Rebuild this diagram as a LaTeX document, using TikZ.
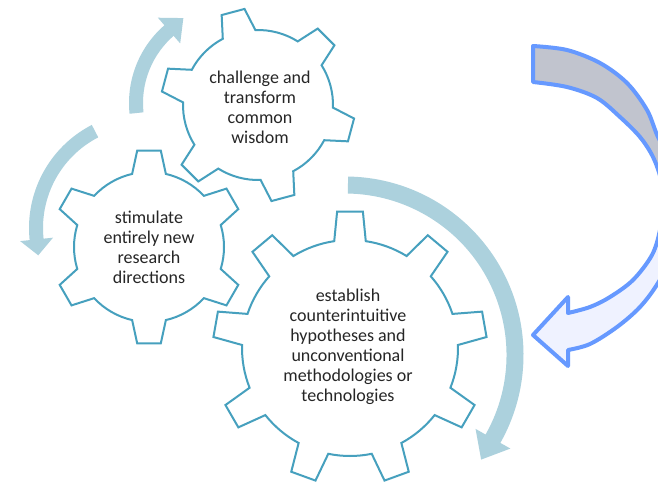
\documentclass[tikz,border=0pt]{standalone}
\usepackage{fontspec}
\setmainfont{Carlito}
\usetikzlibrary{calc}
\definecolor{gearline}{RGB}{70,160,190}
\definecolor{arrowblue}{RGB}{172,209,221}
\definecolor{bigline}{RGB}{102,153,255}
\definecolor{biggray}{RGB}{193,196,206}
\definecolor{biglight}{RGB}{239,242,255}
\definecolor{txt}{RGB}{38,38,38}
\tikzset{
  gearshape/.style={draw=gearline, line width=2pt, fill=white, line join=miter},
  geartext/.style={align=center, text=txt, font=\fontsize{18}{20}\selectfont, inner sep=0pt},
  bandfill/.style={fill=arrowblue},
  bigarrow/.style={draw=bigline, line width=4pt, line join=round},
}
% cx, cy, teeth, offset, Rtip, Rroot, tip half angle, base half angle
\newcommand\drawgear[8]{%
  \begin{scope}[shift={(#1,#2)}]
    \pgfmathsetmacro\gstep{360/#3}
    \pgfmathtruncatemacro\glast{#3-1}
    \draw[gearshape] (#4-#8:#6)
      \foreach \k in {0,...,\glast}{
        -- (#4+\k*\gstep-#7:#5) -- (#4+\k*\gstep+#7:#5) -- (#4+\k*\gstep+#8:#6)
        arc[start angle=#4+\k*\gstep+#8, end angle=#4+\k*\gstep+\gstep-#8, radius=#6]
      } -- cycle;
  \end{scope}}
% cx, cy, r, start, base, half band, half head, head length, direction
\newcommand\bandarrow[9]{%
  \begin{scope}[shift={(#1,#2)}]
    \pgfmathsetmacro\bandend{#5+#9*0.8}
    \fill[bandfill] (#4:#3+#6) arc[start angle=#4, end angle=\bandend, radius=#3+#6]
      -- (\bandend:#3-#6) arc[start angle=\bandend, end angle=#4, radius=#3-#6] -- cycle;
    \fill[bandfill] (#5:#3+#7) -- ($(#5:#3)+(#5+#9*90:#8)$) -- (#5:#3-#7) -- cycle;
  \end{scope}}
\def\bigpath{plot[smooth, tension=0.55] coordinates {(533,82) (567,87) (597,98) (620,117) (640,137) (653,157) (661,180) (663,205) (660,230) (652,255) (633,280) (610,297) (590,307) (568,313)}
  -- (568,297) -- (533,335) -- (568,366) -- (568,350)
  -- plot[smooth, tension=0.55] coordinates {(568,350) (590,344) (617,327) (640,307) (658,283) (675,250) (682,210) (676,172) (658,137) (647,110) (627,83) (600,63) (567,50) (533,46)}
  -- cycle}
\begin{document}
\begin{tikzpicture}[x=1pt, y=-1pt]
  \useasboundingbox (0,0) rectangle (658,482);
  \clip (0,0) rectangle (658,482);
  \fill[white] (0,0) rectangle (658,482);
  % light blue circular arrows
  \bandarrow{232}{103}{96}{174}{229}{7}{17}{19}{1}
  \bandarrow{145}{228}{109}{242.7}{174}{7}{16.5}{16}{-1}
  \bandarrow{345}{355}{170}{-89}{29.5}{8.5}{20}{24}{1}
  % gears
  \drawgear{350}{348}{9}{270}{137}{108}{5.4}{8.4}
  \drawgear{149}{247}{6}{30}{97}{75}{7}{13}
  \drawgear{258}{105}{6}{15}{97}{75}{7}{13}
  \node[geartext] (t1) at (260,107) {challenge and\\transform\\common\\wisdom};
  \node[geartext] (t2) at (149,247) {stimulate\\entirely new\\research\\directions};
  \node[geartext] (t3) at (348,347) {establish\\counterintuitive\\hypotheses and\\unconventional\\methodologies or\\technologies};
  % big blue arrow
  \fill[biglight] \bigpath;
  \begin{scope}
    \clip \bigpath;
    \fill[biggray] (500,0) rectangle (720,197);
  \end{scope}
  \draw[bigarrow] \bigpath;
\end{tikzpicture}
\end{document}
